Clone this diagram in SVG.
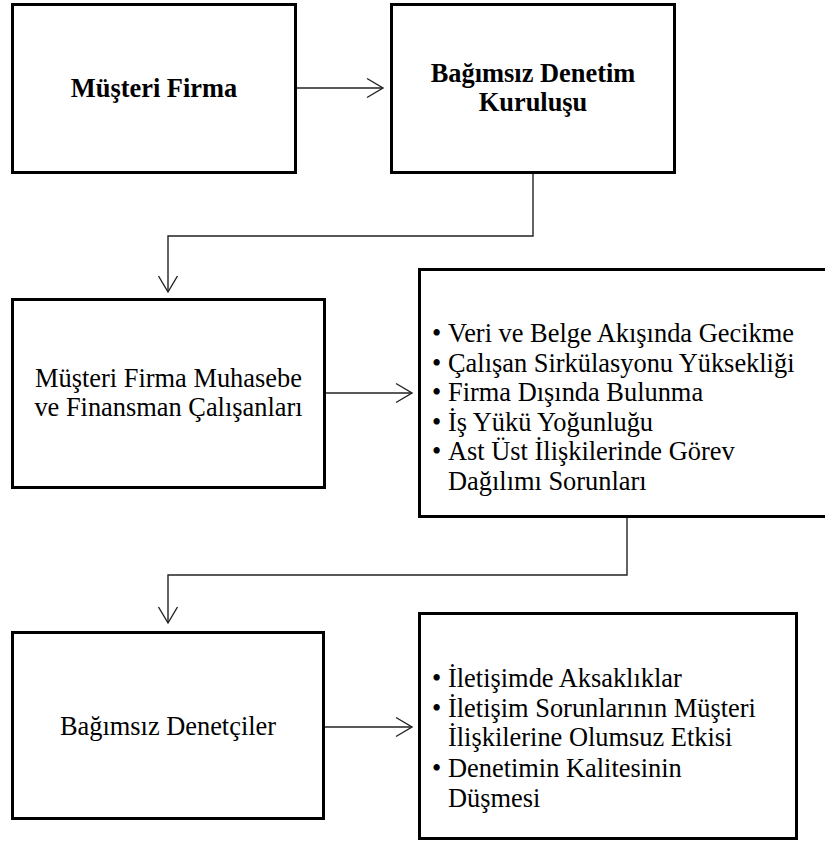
<svg xmlns="http://www.w3.org/2000/svg" width="825" height="844" viewBox="0 0 825 844">
<style>
.box{fill:#fff;stroke:#000;stroke-width:3}
.con{fill:none;stroke:#222;stroke-width:1.4}
text{font-family:'Liberation Serif','Times New Roman',Tinos,'DejaVu Serif',serif;font-size:26.4px;fill:#000}
.b{font-weight:bold}
.c{text-anchor:middle}
</style>
<defs>
<marker id="arr" markerUnits="userSpaceOnUse" viewBox="-18 -11 20 22" refX="0" refY="0" markerWidth="20" markerHeight="22" orient="auto">
<path d="M-16,-9.5 L0,0 L-16,9.5" fill="none" stroke="#222" stroke-width="1.4"/>
</marker>
</defs>
<g id="connectors">
<path class="con" d="M296,88 H383" marker-end="url(#arr)"/>
<path class="con" d="M533,173 V236 H168 V292" marker-end="url(#arr)"/>
<path class="con" d="M325,393 H412" marker-end="url(#arr)"/>
<path class="con" d="M627,517 V575 H168 V623" marker-end="url(#arr)"/>
<path class="con" d="M324,727 H412" marker-end="url(#arr)"/>
</g>
<g id="musteri-firma">
<rect class="box" x="12.5" y="4.5" width="283" height="168"/>
<text class="b c" x="154" y="97">Müşteri Firma</text>
</g>
<g id="bagimsiz-denetim-kurulusu">
<rect class="box" x="391.5" y="4.5" width="283" height="168"/>
<text class="b c" x="533" y="81.5">Bağımsız Denetim</text>
<text class="b c" x="533" y="111">Kuruluşu</text>
</g>
<g id="muhasebe-calisanlari">
<rect class="box" x="12.5" y="299.5" width="312" height="188"/>
<text class="c" x="168.5" y="386.5">Müşteri Firma Muhasebe</text>
<text class="c" x="168.5" y="416">ve Finansman Çalışanları</text>
</g>
<g id="sorunlar-1">
<rect class="box" x="419.5" y="269.5" width="420" height="247"/>
<text x="432" y="342">•</text><text x="448" y="342">Veri ve Belge Akışında Gecikme</text>
<text x="432" y="371.5">•</text><text x="448" y="371.5">Çalışan Sirkülasyonu Yüksekliği</text>
<text x="432" y="401">•</text><text x="448" y="401">Firma Dışında Bulunma</text>
<text x="432" y="430.5">•</text><text x="448" y="430.5">İş Yükü Yoğunluğu</text>
<text x="432" y="460">•</text><text x="448" y="460">Ast Üst İlişkilerinde Görev</text>
<text x="448" y="489.5">Dağılımı Sorunları</text>
</g>
<g id="bagimsiz-denetciler">
<rect class="box" x="12.5" y="632.5" width="311" height="186"/>
<text class="c" x="168" y="735">Bağımsız Denetçiler</text>
</g>
<g id="sorunlar-2">
<rect class="box" x="419.5" y="613.5" width="377" height="225"/>
<text x="432" y="687">•</text><text x="448" y="687">İletişimde Aksaklıklar</text>
<text x="432" y="716.5">•</text><text x="448" y="716.5">İletişim Sorunlarının Müşteri</text>
<text x="448" y="746">İlişkilerine Olumsuz Etkisi</text>
<text x="432" y="777">•</text><text x="448" y="777">Denetimin Kalitesinin</text>
<text x="448" y="806.5">Düşmesi</text>
</g>
</svg>
